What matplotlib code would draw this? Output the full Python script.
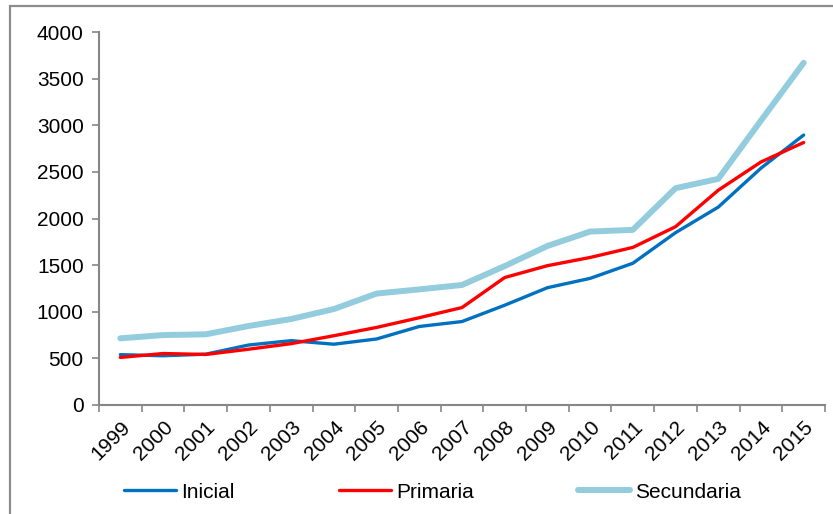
import matplotlib as mpl
mpl.use("Agg")
import matplotlib.pyplot as plt
from matplotlib.patches import Rectangle
import numpy as np

years = [str(y) for y in range(1999, 2016)]
inicial = [540, 528, 545, 643, 690, 652, 708, 842, 895, 1070, 1258, 1358, 1520,
           1848, 2122, 2540, 2895]
primaria = [510, 552, 542, 598, 658, 743, 832, 936, 1045, 1367, 1494, 1582, 1690,
            1912, 2303, 2606, 2815]
secundaria = [715, 750, 758, 847, 922, 1029, 1195, 1240, 1287, 1490, 1705, 1860,
              1878, 2325, 2425, 3050, 3670]

BLUE, RED, LIGHT = "#0070C0", "#FF0000", "#93CDDD"
GRAY = "#868686"

mpl.rcParams.update({"font.family": "Liberation Sans", "font.size": 15})

fig = plt.figure(figsize=(8.33, 5.14), dpi=100)
ax = fig.add_axes([99 / 833, 1 - 405 / 514, 726 / 833, 373 / 514])

x = np.arange(len(years)) + 0.5
ax.plot(x, inicial, color=BLUE, lw=2.4, label="Inicial", solid_capstyle="round")
ax.plot(x, primaria, color=RED, lw=2.4, label="Primaria", solid_capstyle="round")
ax.plot(x, secundaria, color=LIGHT, lw=4.3, label="Secundaria", solid_capstyle="round")

ax.set_xlim(0, len(years))
ax.set_ylim(0, 4000)
ax.set_yticks(range(0, 4001, 500))
ax.set_xticks(np.arange(len(years) + 1))
ax.set_xticklabels([])
ax.set_xticks(x, minor=True)
ax.set_xticklabels(years, minor=True, rotation=45, ha="right", va="top",
                   rotation_mode="anchor")
ax.tick_params(axis="x", which="minor", length=0, pad=9)
ax.tick_params(axis="x", which="major", length=5, color=GRAY, width=1.2)
ax.tick_params(axis="y", length=5, color=GRAY, width=1.2, pad=6)
for s in ("top", "right"):
    ax.spines[s].set_visible(False)
for s in ("left", "bottom"):
    ax.spines[s].set_color(GRAY)
    ax.spines[s].set_linewidth(1.5)

h, l = ax.get_legend_handles_labels()
fig.legend(h, l, loc="center", bbox_to_anchor=(0.519, 1 - 492 / 514), ncol=3,
           frameon=False, handlelength=2.5, handletextpad=0.25, columnspacing=5.0,
           borderpad=0, borderaxespad=0)

# outer frame
fig.add_artist(Rectangle((10 / 833, -0.2), 1.2, 1.2 - 5.5 / 514,
                         transform=fig.transFigure, fill=False, edgecolor="#8c8c8c",
                         lw=1.6, clip_on=False))

fig.savefig("out.png", dpi=100)
